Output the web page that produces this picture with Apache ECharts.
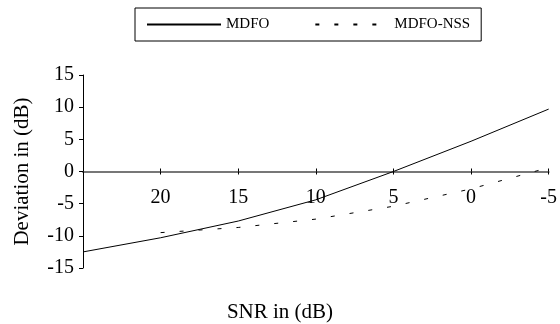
<!DOCTYPE html>
<html>
<head>
<meta charset="utf-8">
<script src="https://cdn.jsdelivr.net/npm/echarts@6/dist/echarts.min.js"></script>
<style>
html,body{margin:0;padding:0;background:#fff;}
#chart{width:560px;height:324px;}
</style>
</head>
<body>
<div id="chart"></div>
<script>
var snr = [25, 20, 15, 10, 5, 0, -5];
var mdfo = [-12.5, -10.3, -7.7, -4.4, 0, 4.7, 9.7];
var mdfoNss = [null, -9.5, -8.7, -7.4, -5.4, -2.7, 0.6];
var seriesNames = ['MDFO', 'MDFO-NSS'];
var xTitle = 'SNR in (dB)';
var yTitle = 'Deviation in (dB)';

function pairs(xs, ys) {
  var out = [];
  for (var i = 0; i < xs.length; i++) {
    if (ys[i] !== null) out.push([xs[i], ys[i]]);
  }
  return out;
}

var FONT = '"Liberation Serif", "Times New Roman", serif';
var chart = echarts.init(document.getElementById('chart'));
chart.setOption({
  animation: false,
  backgroundColor: '#fff',
  textStyle: { fontFamily: FONT, color: '#000' },
  grid: { left: 83, right: 11, top: 75, bottom: 56, containLabel: false },
  legend: {
    left: 135, top: 8,
    padding: [9, 11, 9, 11],
    borderColor: '#000', borderWidth: 1,
    itemWidth: 74, itemHeight: 14, itemGap: 45,
    itemStyle: { opacity: 0, borderWidth: 0 },
    textStyle: { fontFamily: FONT, fontSize: 15, color: '#000' },
    data: seriesNames
  },
  xAxis: [{
    type: 'value', min: -5, max: 25, interval: 5, inverse: true, position: 'bottom',
    axisLine: { onZero: true, onZeroAxisIndex: 0, lineStyle: { color: '#777', width: 2 } },
    axisTick: { show: true, length: 3, lineStyle: { color: '#000', width: 1 } },
    axisLabel: {
      margin: -80, fontSize: 20, fontFamily: FONT, color: '#000',
      formatter: function (v) { return v === 25 ? '' : String(v); }
    },
    splitLine: { show: false }
  }, {
    type: 'value', min: -5, max: 25, interval: 5, inverse: true, position: 'top',
    offset: -96.5,
    axisLine: { onZero: false, show: false },
    axisTick: { show: true, length: 3, lineStyle: { color: '#000', width: 1 } },
    axisLabel: { show: false },
    splitLine: { show: false }
  }],
  yAxis: {
    type: 'value', min: -15, max: 15, interval: 5,
    name: yTitle, nameLocation: 'middle', nameGap: 50, nameRotate: 90,
    nameTextStyle: { fontFamily: FONT, fontSize: 21, color: '#000' },
    axisLine: { show: true, onZero: false, lineStyle: { color: '#000', width: 1 } },
    axisTick: { show: true, length: 4, lineStyle: { color: '#000' } },
    axisLabel: { margin: 9, fontSize: 20, fontFamily: FONT, color: '#000' },
    splitLine: { show: false }
  },
  graphic: [{
    type: 'text', left: 'center', top: 302,
    style: { text: xTitle, font: '21px ' + FONT, fill: '#000' }
  }],
  series: [{
    name: seriesNames[0], type: 'line', xAxisIndex: 0,
    data: pairs(snr, mdfo),
    symbol: 'none', showSymbol: false,
    lineStyle: { color: '#000', width: 1, type: 'solid' },
    itemStyle: { color: '#000' }
  }, {
    name: seriesNames[1], type: 'line', xAxisIndex: 0,
    data: pairs(snr, mdfoNss),
    symbol: 'none', showSymbol: false,
    lineStyle: { color: '#000', width: 1, type: [4, 15] },
    itemStyle: { color: '#000' }
  }]
});
</script>
</body>
</html>
